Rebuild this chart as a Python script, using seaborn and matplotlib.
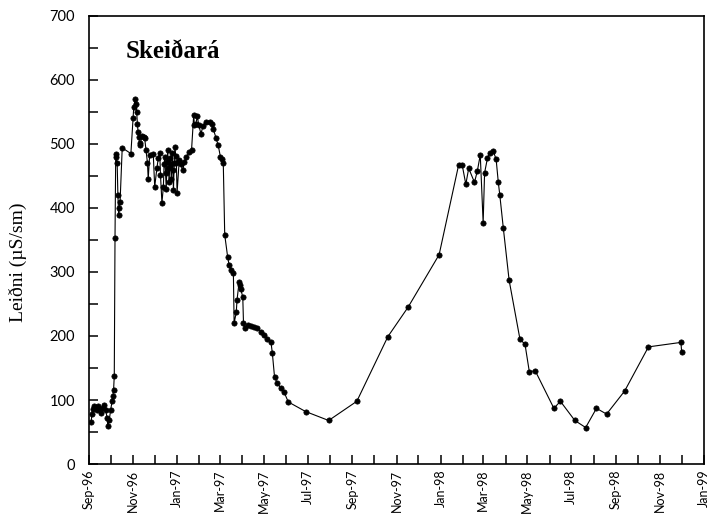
import matplotlib
matplotlib.use("Agg")
import matplotlib.pyplot as plt
import matplotlib.dates as mdates
import pandas as pd
import seaborn as sns

# Conductivity measurements, Skeiðará, Sep 1996 - Dec 1998
dates = [
    "1996-09-04", "1996-09-05", "1996-09-06", "1996-09-08", "1996-09-10",
    "1996-09-12", "1996-09-14", "1996-09-16", "1996-09-18", "1996-09-20",
    "1996-09-22", "1996-09-24", "1996-09-26", "1996-09-27", "1996-09-29",
    "1996-10-01", "1996-10-03", "1996-10-04", "1996-10-05", "1996-10-06",
    "1996-10-07", "1996-10-08", "1996-10-09", "1996-10-10", "1996-10-11",
    "1996-10-12", "1996-10-13", "1996-10-14", "1996-10-17", "1996-10-29",
    "1996-11-01", "1996-11-02", "1996-11-04", "1996-11-05", "1996-11-06",
    "1996-11-07", "1996-11-08", "1996-11-09", "1996-11-10", "1996-11-11",
    "1996-11-13", "1996-11-16", "1996-11-17", "1996-11-19", "1996-11-21",
    "1996-11-22", "1996-11-24", "1996-11-29", "1996-12-01", "1996-12-04",
    "1996-12-06", "1996-12-08", "1996-12-09", "1996-12-11", "1996-12-13",
    "1996-12-14", "1996-12-15", "1996-12-16", "1996-12-17", "1996-12-18",
    "1996-12-19", "1996-12-20", "1996-12-21", "1996-12-22", "1996-12-23",
    "1996-12-24", "1996-12-25", "1996-12-26", "1996-12-27", "1996-12-28",
    "1996-12-29", "1996-12-30", "1996-12-31", "1997-01-01", "1997-01-04",
    "1997-01-06", "1997-01-09", "1997-01-11", "1997-01-14", "1997-01-18",
    "1997-01-21", "1997-01-24", "1997-01-25", "1997-01-27", "1997-01-29",
    "1997-01-31", "1997-02-03", "1997-02-06", "1997-02-10", "1997-02-15",
    "1997-02-19", "1997-02-20", "1997-02-24", "1997-02-27", "1997-03-02",
    "1997-03-04", "1997-03-06", "1997-03-08", "1997-03-12", "1997-03-14",
    "1997-03-17", "1997-03-20", "1997-03-21", "1997-03-24", "1997-03-25",
    "1997-03-28", "1997-03-29", "1997-03-30", "1997-04-02", "1997-04-03",
    "1997-04-05", "1997-04-09", "1997-04-13", "1997-04-18", "1997-04-22",
    "1997-04-27", "1997-05-02", "1997-05-06", "1997-05-11", "1997-05-13",
    "1997-05-16", "1997-05-20", "1997-05-25", "1997-05-29", "1997-06-04",
    "1997-06-28", "1997-07-30", "1997-09-07", "1997-10-20", "1997-11-17",
    "1997-12-30", "1998-01-26", "1998-01-31", "1998-02-05", "1998-02-09",
    "1998-02-17", "1998-02-21", "1998-02-25", "1998-03-01", "1998-03-03",
    "1998-03-07", "1998-03-10", "1998-03-15", "1998-03-19", "1998-03-22",
    "1998-03-24", "1998-03-29", "1998-04-06", "1998-04-21", "1998-04-28",
    "1998-05-04", "1998-05-12", "1998-06-07", "1998-06-16", "1998-07-06",
    "1998-07-21", "1998-08-05", "1998-08-19", "1998-09-13", "1998-10-16",
    "1998-11-30", "1998-12-01",
]

leidni = [
    66, 78, 86, 90, 88,
    84, 90, 86, 80, 88,
    92, 85, 72, 60, 68,
    85, 98, 106, 115, 138,
    353, 484, 479, 470, 420,
    389, 400, 409, 494, 485,
    540, 558, 570, 562, 550,
    532, 518, 511, 501, 498,
    512, 511, 510, 490, 470,
    445, 483, 484, 433, 462,
    478, 486, 452, 408, 433,
    468, 480, 455, 430, 472,
    490, 462, 440, 478, 468,
    445, 486, 460, 428, 470,
    496, 482, 470, 424, 475,
    468, 459, 472, 480, 488,
    490, 545, 530, 532, 543,
    530, 516, 528, 535, 535,
    532, 524, 509, 498, 480,
    477, 470, 358, 324, 311,
    303, 298, 220, 237, 256,
    285, 280, 274, 261, 220,
    212, 217, 215, 214, 212,
    207, 202, 196, 191, 173,
    136, 126, 118, 113, 97,
    82, 68, 98, 199, 245,
    327, 467, 467, 437, 462,
    440, 458, 483, 377, 455,
    478, 486, 489, 476, 440,
    421, 368, 287, 195, 187,
    144, 146, 87, 98, 68,
    57, 87, 78, 114, 183,
    190, 175,
]

y_ticks = [0, 100, 200, 300, 400, 500, 600, 700]
x_start = "1996-09-01"
x_end = "1999-01-01"
title = "Skeiðará"
y_label = "Leiðni (µS/sm)"

sns.set_style("ticks")
plt.rcParams["font.family"] = ["Lato", "DejaVu Sans"]
plt.rcParams["text.color"] = "black"
plt.rcParams["xtick.color"] = "black"
plt.rcParams["ytick.color"] = "black"
plt.rcParams["axes.labelcolor"] = "black"

df = pd.DataFrame({"dags": pd.to_datetime(dates), "leidni": leidni})

fig = plt.figure(figsize=(7.11, 5.17), dpi=100)
ax = fig.add_axes([0.1252, 0.1025, 0.8650, 0.8666])

sns.lineplot(
    data=df, x="dags", y="leidni", ax=ax,
    color="black", linewidth=0.8,
    marker="o", markersize=3.8, markeredgecolor="black", markeredgewidth=0.5,
    estimator=None, sort=False,
)

ax.set_xlim(pd.Timestamp(x_start), pd.Timestamp(x_end))
ax.set_ylim(y_ticks[0], y_ticks[-1])
ax.set_yticks(y_ticks)
ax.yaxis.set_minor_locator(matplotlib.ticker.MultipleLocator(50))

ax.xaxis.set_major_locator(mdates.MonthLocator(bymonth=[1, 3, 5, 7, 9, 11]))
ax.xaxis.set_minor_locator(mdates.MonthLocator())
ax.xaxis.set_major_formatter(mdates.DateFormatter("%b-%y"))

ax.tick_params(axis="both", which="both", direction="in", length=6.5,
               width=1.1, color="black", labelcolor="black")
ax.tick_params(axis="y", which="major", labelsize=10.5, pad=10)
ax.tick_params(axis="x", which="major", labelsize=9, pad=4, labelrotation=90)

for s in ax.spines.values():
    s.set_visible(True)
    s.set_linewidth(1.2)
    s.set_color("black")

ax.set_xlabel("")
ax.set_ylabel("")

ax.text(0.059, 0.906, title, transform=ax.transAxes, color="black",
        family="Liberation Serif", fontweight="bold", fontsize=18,
        ha="left", va="baseline")
fig.text(18 / 711, 1 - 262 / 517, y_label, family="Liberation Serif",
         color="black", fontsize=14, rotation=90, ha="center", va="center")

fig.savefig("out.png", dpi=100)
